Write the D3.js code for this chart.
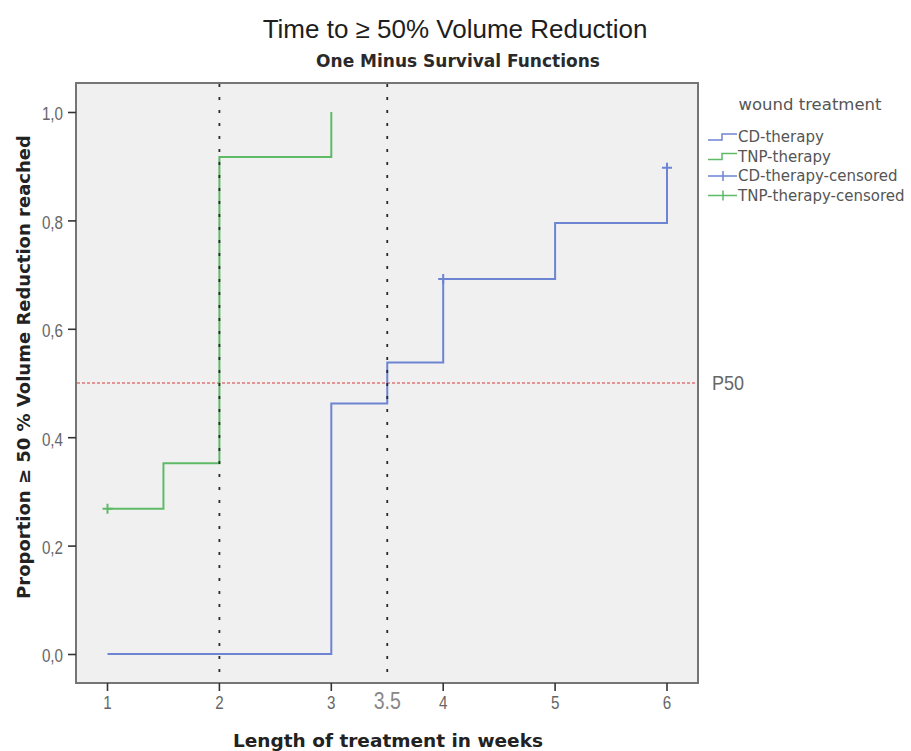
<!DOCTYPE html>
<html>
<head>
<meta charset="utf-8">
<script src="https://cdn.jsdelivr.net/npm/d3@7.9.0/dist/d3.min.js"></script>
<style>
  body { margin: 0; background: #fff; }
  svg { font-family: "Liberation Sans", Arial, sans-serif; }
  .dv { font-family: "DejaVu Sans", Verdana, sans-serif; }
</style>
</head>
<body>
<svg id="chart" width="911" height="751"></svg>
<script>
// ---------- DATA ---------- //
const cdWeeks = [1, 3, 3.5, 4, 5, 6];
const cdProportion = [0, 0.462, 0.538, 0.692, 0.795, 0.897];
const tnpWeeks = [1, 1.5, 2, 3];
const tnpProportion = [0.268, 0.352, 0.917, 1.0];
const cdCensoredWeeks = [4, 6];
const cdCensoredProportion = [0.692, 0.897];
const tnpCensoredWeeks = [1];
const tnpCensoredProportion = [0.268];
const xTicks = [1, 2, 3, 4, 5, 6];
const yTicks = [0, 0.2, 0.4, 0.6, 0.8, 1.0];
const refWeeks = [2, 3.5];
const p50 = 0.5;
const legendLabels = ['CD-therapy', 'TNP-therapy', 'CD-therapy-censored', 'TNP-therapy-censored'];

const blue = '#6d84d2';
const green = '#5fba68';

// ---------- LAYOUT ---------- //
const svg = d3.select('#chart');
const frame = { left: 76, right: 698, top: 83, bottom: 683 };

const x = d3.scaleLinear().domain([1, 6]).range([107.5, 667]);
const y = d3.scaleLinear().domain([0, 1]).range([654, 112]);

const comma = d3.formatLocale({ decimal: ',', thousands: '.', grouping: [3], currency: ['', ''] }).format('.1f');
const squeeze = 0.8; // tick labels in the picture are narrow

// plot background
svg.append('rect')
  .attr('x', frame.left).attr('y', frame.top)
  .attr('width', frame.right - frame.left).attr('height', frame.bottom - frame.top)
  .attr('fill', '#f0f0f0')
  .attr('stroke', '#757575').attr('stroke-width', 2);

// titles
svg.append('text')
  .attr('x', 455).attr('y', 38)
  .attr('text-anchor', 'middle')
  .attr('font-size', 26).attr('fill', '#1e1e1e')
  .text('Time to \u2265 50% Volume Reduction');

svg.append('text')
  .attr('class', 'dv')
  .attr('x', 458).attr('y', 67)
  .attr('text-anchor', 'middle')
  .attr('font-size', 17).attr('font-weight', 'bold').attr('fill', '#2a2a2a')
  .text('One Minus Survival Functions');

// axes
const yAxis = svg.append('g')
  .attr('transform', `translate(${frame.left},0)`)
  .call(d3.axisLeft(y).tickValues(yTicks).tickFormat(comma).tickSize(8).tickPadding(5));
yAxis.select('.domain').remove();
yAxis.selectAll('line').attr('stroke', '#333').attr('stroke-width', 1.6);
yAxis.selectAll('text')
  .attr('font-size', 19).attr('fill', '#666')
  .attr('x', -13 / squeeze).attr('dy', '0.42em')
  .attr('transform', `scale(${squeeze},1)`);

const xAxis = svg.append('g')
  .attr('transform', `translate(0,${frame.bottom})`)
  .call(d3.axisBottom(x).tickValues(xTicks).tickFormat(d3.format('d')).tickSize(8).tickPadding(5));
xAxis.select('.domain').remove();
xAxis.selectAll('line').attr('stroke', '#333').attr('stroke-width', 1.6);
xAxis.selectAll('text')
  .attr('font-size', 19).attr('fill', '#666')
  .attr('transform', `scale(${squeeze},1)`);
xAxis.selectAll('.tick')
  .attr('transform', d => `translate(${x(d)},0)`);

// 3.5 annotation
svg.append('text')
  .attr('transform', `translate(${x(3.5)},709) scale(0.85,1)`)
  .attr('text-anchor', 'middle')
  .attr('font-size', 23).attr('fill', '#888')
  .text('3.5');

// axis titles
svg.append('text')
  .attr('class', 'dv')
  .attr('x', 388).attr('y', 747)
  .attr('text-anchor', 'middle')
  .attr('font-size', 18.5).attr('font-weight', 'bold').attr('fill', '#222')
  .text('Length of treatment in weeks');

svg.append('text')
  .attr('class', 'dv')
  .attr('transform', `translate(30,367) rotate(-90)`)
  .attr('text-anchor', 'middle')
  .attr('font-size', 18).attr('font-weight', 'bold').attr('fill', '#222')
  .text('Proportion \u2265 50 % Volume Reduction reached');

// P50 reference line
svg.append('line')
  .attr('x1', frame.left + 1).attr('x2', frame.right - 1)
  .attr('y1', y(p50)).attr('y2', y(p50))
  .attr('stroke', '#e39494').attr('stroke-width', 2).attr('stroke-dasharray', '3,2');

svg.append('text')
  .attr('transform', `translate(712,${y(p50) + 7}) scale(0.9,1)`)
  .attr('font-size', 20).attr('fill', '#666')
  .text('P50');

// step lines
const step = d3.line()
  .x(d => x(d[0]))
  .y(d => y(d[1]))
  .curve(d3.curveStepAfter);

svg.append('path')
  .datum(d3.zip(cdWeeks, cdProportion))
  .attr('d', step)
  .attr('fill', 'none').attr('stroke', blue).attr('stroke-width', 2);

svg.append('path')
  .datum(d3.zip(tnpWeeks, tnpProportion))
  .attr('d', step)
  .attr('fill', 'none').attr('stroke', green).attr('stroke-width', 2);

refWeeks.forEach(w => {
  svg.append('line')
    .attr('x1', x(w)).attr('x2', x(w))
    .attr('y1', frame.top + 1).attr('y2', frame.bottom - 1)
    .attr('stroke', '#2a2a2a').attr('stroke-width', 1.8).attr('stroke-dasharray', '3,10');
});

// censor marks
function censor(weeks, props, color) {
  d3.zip(weeks, props).forEach(([w, p]) => {
    const cx = x(w), cy = y(p);
    svg.append('path')
      .attr('d', `M${cx - 5},${cy}H${cx + 5}M${cx},${cy - 5}V${cy + 5}`)
      .attr('stroke', color).attr('stroke-width', 2);
  });
}
censor(cdCensoredWeeks, cdCensoredProportion, blue);
censor(tnpCensoredWeeks, tnpCensoredProportion, green);

// legend
const legend = svg.append('g').attr('class', 'dv');
legend.append('text')
  .attr('x', 810).attr('y', 110)
  .attr('text-anchor', 'middle')
  .attr('font-size', 16.5).attr('fill', '#555')
  .text('wound treatment');

const legendColors = [blue, green, blue, green];
legendLabels.forEach((label, i) => {
  const ly = 137 + i * 19.5;
  if (i < 2) {
    legend.append('path')
      .attr('d', `M708,${ly + 3}H722V${ly - 3}H737`)
      .attr('fill', 'none').attr('stroke', legendColors[i]).attr('stroke-width', 1.5);
  } else {
    legend.append('path')
      .attr('d', `M708,${ly}H737M723,${ly - 5}V${ly + 5}`)
      .attr('stroke', legendColors[i]).attr('stroke-width', 1.5);
  }
  legend.append('text')
    .attr('x', 738).attr('y', ly + 5)
    .attr('font-size', 15).attr('fill', '#555')
    .text(label);
});
</script>
</body>
</html>
